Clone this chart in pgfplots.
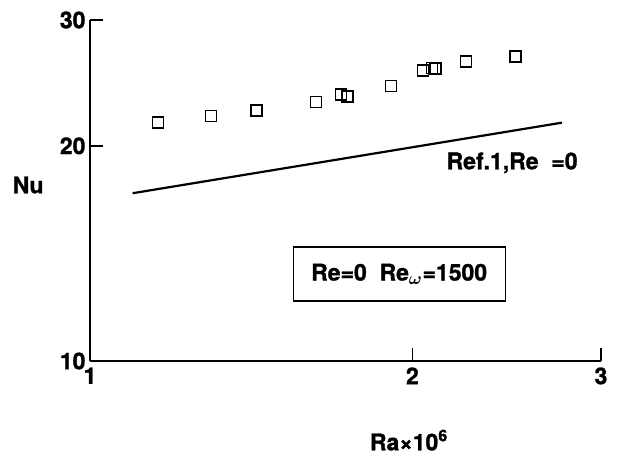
\documentclass[border=0pt]{standalone}
\usepackage{pgfplots}
\pgfplotsset{compat=1.18}
\usepackage{fontspec}
\setmainfont{TeX Gyre Heros}[BoldFeatures={FakeBold=1.2}]
\begin{document}
\begin{tikzpicture}
\useasboundingbox (-90pt,-94pt) rectangle (529pt,361pt);
\begin{axis}[
  at={(0pt,0pt)}, anchor=south west,
  scale only axis, width=511pt, height=341pt,
  xmode=log, ymode=log,
  xmin=1, xmax=3, ymin=10, ymax=30,
  axis lines=left, axis line style={-, line width=1.8pt},
  xtick={1,2,3}, xticklabels={1,2,3},
  ytick={10,20,30}, yticklabels={10,20,30},
  minor tick num=0, minor xtick={}, minor ytick={},
  log ticks with fixed point,
  tick align=inside, major tick length=13pt,
  every tick/.style={line width=1.5pt, black},
  /pgf/number format/assume math mode=true,
  tick label style={font=\bfseries\fontsize{23}{27}\selectfont},
  xticklabel style={yshift=-3pt},
  yticklabel style={xshift=-1pt},
  xlabel={Ra×10\textsuperscript{6}},
  xlabel style={at={(axis description cs:0.624,-0.232)}, anchor=center, font=\bfseries\fontsize{23}{27}\selectfont},
  ylabel={Nu},
  ylabel style={at={(axis description cs:-0.121,0.516)}, anchor=center, rotate=-90, font=\bfseries\fontsize{23}{27}\selectfont},
  clip=false,
]
\addplot[only marks, mark=square, mark size=5.5pt, mark options={line width=1.5pt, black}] coordinates {
(1.158,21.55) (1.297,22.02) (1.431,22.43) (1.625,23.03) (1.715,23.58) (1.740,23.43)
(1.911,24.25) (2.046,25.48) (2.086,25.72) (2.101,25.67) (2.244,26.23) (2.495,26.66)
};
\addplot[black, line width=2.2pt] coordinates {(1.096,17.17) (2.758,21.55)};
\node[font=\bfseries\fontsize{23}{27}\selectfont] at (axis description cs:0.826,0.581) {Ref.1,Re\ \ =0};
\node[draw, line width=1.3pt, minimum width=212pt, minimum height=54pt, inner sep=0pt,
  font=\bfseries\fontsize{23}{27}\selectfont] at (axis description cs:0.605,0.255)
  {Re=0\ \ Re\textsubscript{\boldmath$\omega$}=1500};
\end{axis}
\end{tikzpicture}
\end{document}
